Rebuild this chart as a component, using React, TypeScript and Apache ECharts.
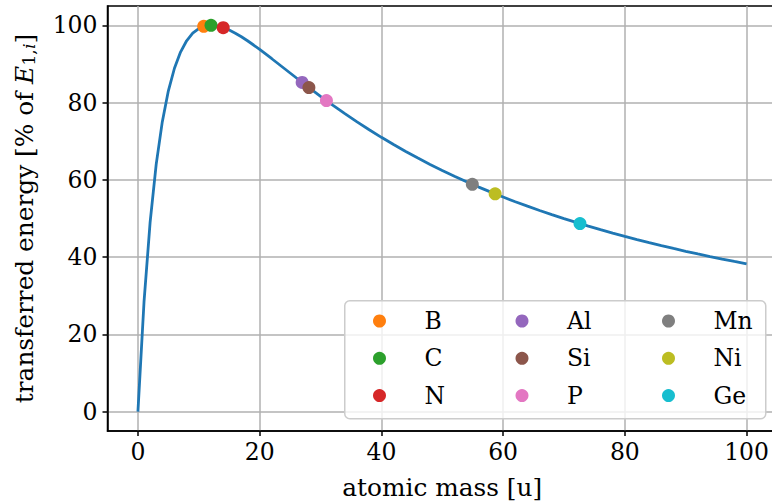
import React, { useEffect, useRef } from "react";
import * as echarts from "echarts";

const curveMass = [
  0, 1, 2, 3, 4, 5, 6, 7, 8, 9, 10, 11, 12, 13, 14, 15, 16, 17, 18, 19, 20,
  22, 24, 26, 28, 30, 32, 34, 36, 38, 40, 42, 44, 46, 48, 50, 52, 54, 56, 58,
  60, 62, 64, 66, 68, 70, 72, 74, 76, 78, 80, 82, 84, 86, 88, 90, 92, 94, 96,
  98, 100,
];
const curveEnergy = [
  0, 28.4, 48.98, 64.0, 75.0, 83.04, 88.89, 93.07, 96.0, 97.96, 99.17, 99.81,
  100.0, 99.84, 99.41, 98.77, 97.96, 97.03, 96.0, 94.9, 93.75, 91.35, 88.89,
  86.43, 84.0, 81.63, 79.34, 77.13, 75.0, 72.96, 71.01, 69.14, 67.35, 65.64,
  64.0, 62.43, 60.94, 59.5, 58.13, 56.82, 55.56, 54.35, 53.19, 52.07, 51.0,
  49.97, 48.98, 48.03, 47.11, 46.22, 45.37, 44.54, 43.75, 42.98, 42.24, 41.52,
  40.83, 40.16, 39.51, 38.88, 38.27,
];

const elements = ["B", "C", "N", "Al", "Si", "P", "Mn", "Ni", "Ge"];
const elementMass = [10.81, 12.01, 14.01, 26.98, 28.09, 30.97, 54.94, 58.69, 72.63];
const elementEnergy = [99.73, 100.0, 99.4, 85.23, 83.89, 80.51, 58.85, 56.38, 48.68];
const elementColors = [
  "#ff7f0e", "#2ca02c", "#d62728", "#9467bd", "#8c564b",
  "#e377c2", "#7f7f7f", "#bcbd22", "#17becf",
];

const tickValues = [0, 20, 40, 60, 80, 100];
const FONT = "'DejaVu Serif', serif";

export default function App() {
  const ref = useRef<HTMLDivElement>(null);
  useEffect(() => {
    if (!ref.current) return;
    const chart = echarts.init(ref.current, undefined, { renderer: "svg" });
    const gridColor = "#b0b0b0";
    const axisCommon = () => ({
      type: "value" as const,
      min: -5,
      max: 105,
      axisLine: { show: true, onZero: false, lineStyle: { color: "#000", width: 1.5 } },
      axisTick: { show: true, length: 5, customValues: tickValues, lineStyle: { color: "#000", width: 1.5 } },
      splitLine: { show: true, lineStyle: { color: gridColor, width: 1.5 } },
      nameLocation: "middle" as const,
    });
    const labelStyle = { customValues: tickValues, color: "#000", fontFamily: FONT, fontSize: 23.5 };
    const legendLefts = [368, 510.5, 657];
    const legendCols = [0, 1, 2].map((c) => ({
      orient: "vertical" as const,
      left: legendLefts[c],
      top: 304,
      itemWidth: 80,
      itemHeight: 13,
      itemGap: 13.3,
      icon: "circle",
      data: elements.slice(c * 3, c * 3 + 3),
      textStyle: { fontFamily: FONT, fontSize: 23.5, color: "#000" },
      selectedMode: false,
      z: 10,
    }));
    const TS = 24.8;
    chart.setOption({
      animation: false,
      backgroundColor: "#fff",
      grid: {
        left: 107.5,
        width: 669.5,
        top: 6,
        height: 425,
        outerBoundsMode: "none",
        containLabel: false,
        show: true,
        borderColor: "#000",
        borderWidth: 1.5,
        backgroundColor: "transparent",
      },
      xAxis: {
        ...axisCommon(),
        name: "atomic mass [u]",
        nameGap: 44,
        axisLabel: { ...labelStyle, margin: 9 },
        nameTextStyle: { fontFamily: FONT, fontSize: TS, color: "#000" },
      },
      yAxis: {
        ...axisCommon(),
        name: "{n|transferred energy [% of }{e|E}{s|1,}{si|i}{n|]}",
        nameGap: 70,
        axisLabel: { ...labelStyle, margin: 10 },
        nameTextStyle: {
          fontFamily: FONT,
          fontSize: TS,
          color: "#000",
          rich: {
            n: { fontFamily: FONT, fontSize: TS, color: "#000" },
            e: { fontFamily: FONT, fontSize: TS, fontStyle: "italic", color: "#000" },
            s: { fontFamily: FONT, fontSize: 17.5, color: "#000", verticalAlign: "bottom", padding: [8, 0, 0, 0] },
            si: { fontFamily: FONT, fontSize: 17.5, fontStyle: "italic", color: "#000", verticalAlign: "bottom", padding: [8, 0, 0, 0] },
          },
        },
      },
      legend: legendCols,
      graphic: [
        {
          type: "rect",
          left: 344,
          top: 300,
          shape: { width: 421, height: 118, r: 5 },
          style: { fill: "rgba(255,255,255,0.8)", stroke: "#cccccc", lineWidth: 1.5 },
          z: 5,
        },
      ],
      series: [
        {
          type: "line",
          data: curveMass.map((m, i) => [m, curveEnergy[i]]),
          showSymbol: false,
          lineStyle: { color: "#1f77b4", width: 2.8 },
          itemStyle: { color: "#1f77b4" },
          z: 2,
        },
        ...elements.map((el, i) => ({
          type: "scatter",
          name: el,
          data: [[elementMass[i], elementEnergy[i]]],
          symbol: "circle",
          symbolSize: 13,
          itemStyle: { color: elementColors[i], opacity: 1 },
          z: 3,
        })),
      ],
    });
    return () => chart.dispose();
  }, []);
  return (
    <div
      ref={ref}
      style={{ position: "absolute", left: 0, top: 0, width: 772, height: 502 }}
    />
  );
}
